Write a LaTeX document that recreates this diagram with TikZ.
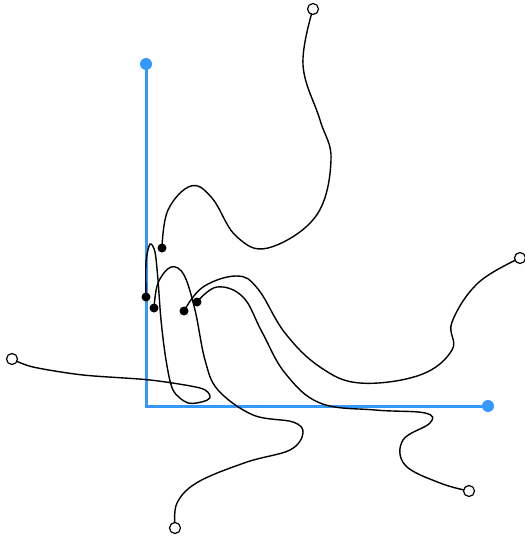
\documentclass[tikz,border=0pt]{standalone}
\usetikzlibrary{positioning,backgrounds}
\definecolor{axisblue}{RGB}{51,153,255}
\begin{document}
\begin{tikzpicture}[x=1pt,y=-1pt,
    axis/.style={axisblue,line width=3pt},
    wire/.style={black,line width=1.4pt},
    headdot/.style={circle,fill=black,inner sep=0pt,minimum size=9pt},
    taildot/.style={circle,draw=black,fill=white,line width=1.2pt,inner sep=0pt,minimum size=11pt},
    axisdot/.style={circle,fill=axisblue,inner sep=0pt,minimum size=12pt}]
  \useasboundingbox (0,0) rectangle (524,540);
  % axes
  \node [axisdot] (ytip) at (146,64) {};
  \node [axisdot] (xtip) at (488,406) {};
  \coordinate (origin) at (146,406);
  % start dots and end circles
  \node [headdot] (h1) at (162,248) {};
  \node [headdot] (h2) at (146,297) {};
  \node [headdot] (h3) at (154,308) {};
  \node [headdot] (h4) at (184,311) {};
  \node [headdot] (h5) at (197,302) {};
  \node [taildot] (t1) at (313,9) {};
  \node [taildot] (t2) at (12,359) {};
  \node [taildot] (t3) at (175,528) {};
  \node [taildot] (t4) at (520,258) {};
  \node [taildot] (t5) at (469,491) {};
  \begin{pgfonlayer}{background}
    \draw [axis] (ytip.center) -- (origin) -- (xtip.center);
    \draw [wire] plot [smooth,tension=0.65] coordinates {(h1.center) (168,210) (191,186) (212,198) (236,236) (268,248) (316,216) (331,160) (320,120) (303,65) (t1.center)};
    \draw [wire] plot [smooth,tension=0.5] coordinates {(h2.center) (146,262) (150,244) (155,252) (158,280) (161,320) (166,360) (173,390) (188,403) (205,401) (210,396) (200,388) (150,380) (83,375) (33,367) (t2.center)};
    \draw [wire] plot [smooth,tension=0.6] coordinates {(h3.center) (158,283) (171,267) (184,275) (195,310) (205,360) (218,390) (253,415) (293,422) (303,433) (290,450) (247,462) (198,482) (177,503) (t3.center)};
    \draw [wire] plot [smooth,tension=0.65] coordinates {(h4.center) (203,287) (237,276) (258,289) (285,333) (320,367) (360,383) (420,375) (452,350) (452,322) (478,283) (t4.center)};
    \draw [wire] plot [smooth,tension=0.65] coordinates {(h5.center) (217,287) (243,297) (262,332) (285,373) (320,403) (375,410) (425,413) (430,423) (403,440) (405,465) (440,483) (t5.center)};
  \end{pgfonlayer}
\end{tikzpicture}
\end{document}
